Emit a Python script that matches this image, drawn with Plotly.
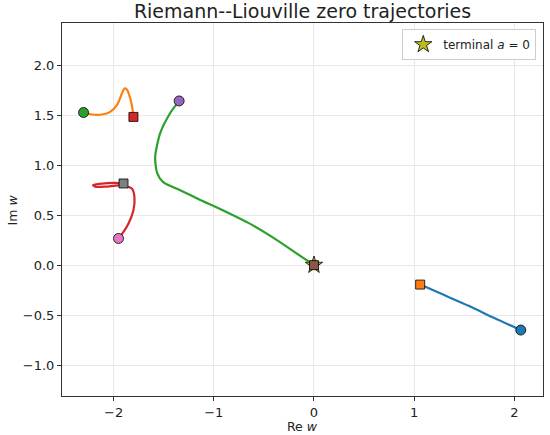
import plotly.graph_objects as go

# zero trajectories in the w-plane
blue_re = [2.064, 1.80, 1.55, 1.30, 1.060]
blue_im = [-0.650, -0.530, -0.410, -0.300, -0.195]

orange_re = [-2.300, -2.216, -2.117, -2.034, -1.967, -1.917, -1.891, -1.867, -1.834, -1.812, -1.802]
orange_im = [1.527, 1.507, 1.507, 1.533, 1.600, 1.717, 1.767, 1.757, 1.667, 1.567, 1.483]

green_re = [-1.346, -1.436, -1.535, -1.585, -1.565, -1.505, -1.336, -1.15, -0.90, -0.65, -0.40, -0.20, 0.0]
green_im = [1.643, 1.520, 1.320, 1.080, 0.920, 0.830, 0.750, 0.660, 0.545, 0.420, 0.270, 0.135, 0.0]

red_re = [-1.951, -1.901, -1.851, -1.802, -1.792, -1.818, -1.904, -1.951, -2.084, -2.183, -2.205, -2.117, -1.984, -1.901]
red_im = [0.267, 0.333, 0.417, 0.550, 0.683, 0.767, 0.793, 0.798, 0.785, 0.785, 0.801, 0.816, 0.822, 0.817]

terminal_re = [0.0]
terminal_im = [0.0]

trajectories = [
    (blue_re, blue_im, "#1f77b4", "#1f77b4", "#ff7f0e"),
    (orange_re, orange_im, "#ff7f0e", "#2ca02c", "#d62728"),
    (green_re, green_im, "#2ca02c", "#9467bd", "#8c564b"),
    (red_re, red_im, "#d62728", "#e377c2", "#7f7f7f"),
]

fig = go.Figure()

fig.add_trace(go.Scatter(
    x=terminal_re, y=terminal_im, mode="markers", name="terminal <i>a</i> = 0",
    marker=dict(symbol="star", size=13, color="#bcbd22", line=dict(color="black", width=0.8)),
))

for re, im, line_col, start_col, end_col in trajectories:
    fig.add_trace(go.Scatter(
        x=re, y=im, mode="lines", showlegend=False,
        line=dict(color=line_col, width=2.2, shape="spline", smoothing=0.7),
    ))
    fig.add_trace(go.Scatter(
        x=[re[0]], y=[im[0]], mode="markers", showlegend=False,
        marker=dict(symbol="circle", size=10, color=start_col, line=dict(color="black", width=0.8)),
    ))
    fig.add_trace(go.Scatter(
        x=[re[-1]], y=[im[-1]], mode="markers", showlegend=False,
        marker=dict(symbol="square", size=9, color=end_col, line=dict(color="black", width=0.8)),
    ))

axis_common = dict(
    showgrid=True, gridcolor="#e8e8e8", gridwidth=1,
    showline=True, linecolor="#333", linewidth=1, mirror=True,
    ticks="outside", ticklen=4, tickcolor="#333", automargin=False,
    zeroline=False, tickfont=dict(size=13, color="#222"),
)

fig.update_layout(
    width=550, height=435,
    margin=dict(l=62, r=7, t=23, b=39),
    plot_bgcolor="white", paper_bgcolor="white",
    font=dict(family="DejaVu Sans", color="#222"),
    title=dict(text="Riemann--Liouville zero trajectories", x=0.55, xanchor="center",
               y=1 - 11 / 435, yanchor="middle", font=dict(size=19)),
    xaxis=dict(range=[-2.515, 2.286], dtick=1, **axis_common),
    yaxis=dict(range=[-1.31, 2.423], dtick=0.5, tickformat=".1f", **axis_common),
    legend=dict(x=0.986, y=0.984, xanchor="right", yanchor="top", bgcolor="white",
                bordercolor="#cccccc", borderwidth=1, font=dict(size=12)),
    annotations=[
        dict(text="Re <i>w</i>", xref="paper", yref="paper", x=0.5, y=-0.081,
             xanchor="center", yanchor="middle", showarrow=False, font=dict(size=12.5)),
        dict(text="Im <i>w</i>", xref="paper", yref="paper", x=-0.102, y=0.5, textangle=-90,
             xanchor="center", yanchor="middle", showarrow=False, font=dict(size=12.5)),
    ],
)

# drop the page's default body margin so the figure sits at the window corner
fig.write_html("out.html", config={"displayModeBar": False},
               post_script="document.body.style.margin='0';")
